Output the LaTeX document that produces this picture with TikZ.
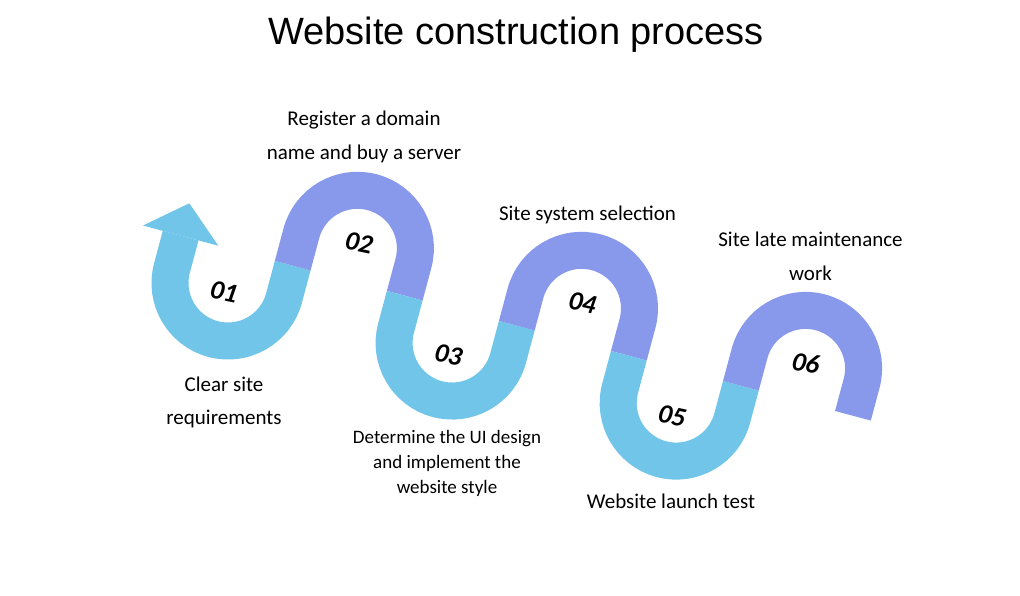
\documentclass[tikz,border=0pt]{standalone}
\usepackage{fontspec}
\setmainfont{Carlito}
\newfontfamily\headfont{Liberation Sans}
\usetikzlibrary{positioning}

\definecolor{waveblue}{RGB}{113,197,233}
\definecolor{wavepurple}{RGB}{136,153,236}

\begin{document}
\begin{tikzpicture}[
    x=1pt, y=1pt,
    % band styles
    lowband/.style={draw=waveblue, line width=37pt, line cap=butt},
    highband/.style={draw=wavepurple, line width=37pt, line cap=butt},
    % text styles
    headtext/.style={font=\headfont\fontsize{38}{38}\selectfont, anchor=base, inner sep=0pt},
    numlabel/.style={font=\fontsize{27}{27}\selectfont\bfseries\itshape, rotate=-12, inner sep=0pt},
    steplabel/.style={font=\fontsize{21}{33.5}\selectfont, align=center, anchor=base, inner sep=0pt},
    smalllabel/.style={font=\fontsize{19}{25}\selectfont, align=center, anchor=base, inner sep=0pt},
]
\useasboundingbox (0,0) rectangle (1020,-596);

% ============ Title ============
\node[headtext] (title) at (516,-45) {Website construction process};

% ============ Wave (frame tilted by 15 degrees) ============
\begin{scope}[shift={(228,-283)}, rotate=-15]
    \coordinate (start) at (-58,33.5);
    \coordinate (tip) at (-58,67);

    % arrow head on the first leg
    \fill[waveblue] (-97,33.5) -- (tip) -- (-19,33.5) -- cycle;

    % 01 .. 06
    \draw[lowband] (start) -- (-58,0) arc[start angle=180, end angle=360, radius=58] -- (58,33.5);
    \draw[highband] (58,33.5) -- (58,67) arc[start angle=180, end angle=0, radius=58] -- (174,33.5);
    \draw[lowband] (174,33.5) -- (174,0) arc[start angle=180, end angle=360, radius=58] -- (290,33.5);
    \draw[highband] (290,33.5) -- (290,67) arc[start angle=180, end angle=0, radius=58] -- (406,33.5);
    \draw[lowband] (406,33.5) -- (406,0) arc[start angle=180, end angle=360, radius=58] -- (522,33.5);
    \draw[highband] (522,33.5) -- (522,67) arc[start angle=180, end angle=0, radius=58] -- (638,33.5);
\end{scope}

% ============ Step numbers ============
\node[numlabel] (n1) at (224,-291.5) {01};
\node[numlabel] (n2) at (359,-242.5) {02};
\node[numlabel] (n3) at (448.5,-355) {03};
\node[numlabel] (n4) at (582.5,-302.5) {04};
\node[numlabel] (n5) at (672,-416) {05};
\node[numlabel] (n6) at (806,-363) {06};

% ============ Step texts (base = last line) ============
\node[steplabel] (clear) at (224,-424.5) {Clear site\\requirements};
\node[steplabel] (domain) at (364,-159.5) {Register a domain\\name and buy a server};
\node[smalllabel] (design) at (447,-493.5) {Determine the UI design\\and implement the\\website style};
\node[steplabel] (select) at (587.5,-221) {Site system selection};
\node[steplabel] (launch) at (671,-508) {Website launch test};
\node[steplabel] (maint) at (810.5,-280) {Site late maintenance\\work};

\end{tikzpicture}
\end{document}
